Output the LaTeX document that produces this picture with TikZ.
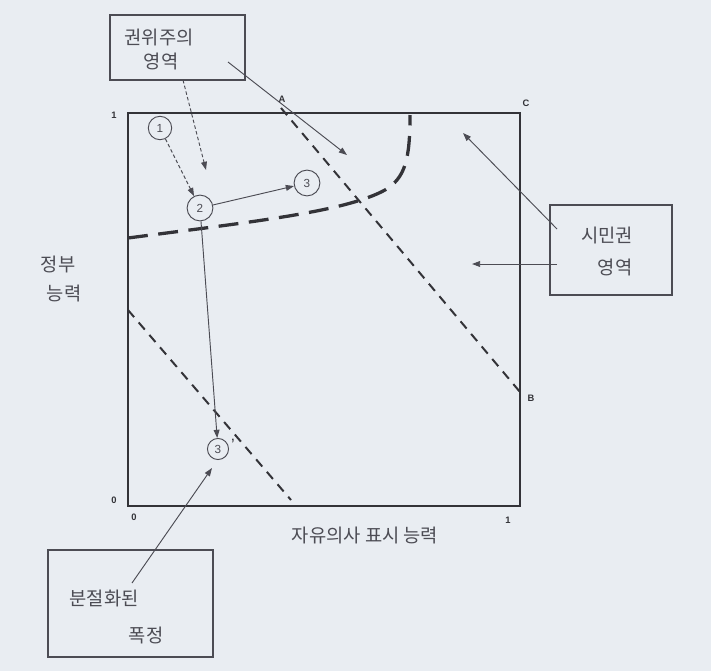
\documentclass[tikz,border=0pt]{standalone}
\usepackage{fontspec}
\newfontfamily\kr{Noto Sans CJK KR}
\setmainfont{Liberation Sans}
\usetikzlibrary{arrows.meta}
\definecolor{bgc}{rgb}{0.915,0.93,0.95}
\definecolor{ink}{rgb}{0.2,0.2,0.22}
\definecolor{pen}{rgb}{0.3,0.3,0.33}
\tikzset{
  frame/.style={draw=ink,line width=2.5pt},
  lbox/.style={draw=pen,line width=0.9pt,minimum width=#1,inner sep=0pt},
  ktext/.style={font=\kr\fontsize{16}{18}\selectfont,text=pen,inner sep=0pt},
  small/.style={font=\fontsize{8}{9}\selectfont\bfseries,text=ink,inner sep=0pt},
  numc/.style={circle,draw=pen,line width=0.8pt,minimum size=#1,inner sep=0pt,font=\fontsize{10}{11}\selectfont,text=pen},
  shortdash/.style={draw=ink,line width=1.7pt,dash pattern=on 8pt off 6pt},
  longdash/.style={draw=ink,line width=2.8pt,dash pattern=on 17pt off 9pt},
  parrow/.style={draw=pen,line width=0.8pt,-{Triangle[length=7pt,width=5pt]}},
  darrow/.style={parrow,dash pattern=on 3pt off 2pt},
}
\begin{document}
\begin{tikzpicture}[x=0.03cm,y=-0.03cm]
\fill[bgc] (0,0) rectangle (711,671);
\useasboundingbox (0,0) rectangle (711,671);

% main square
\coordinate (tl) at (128,113);
\coordinate (br) at (520,506);
\draw[frame] (tl) rectangle (br);

% axis labels
\node[small] (y1) at (114,115) {1};
\node[small] (y0) at (114,500) {0};
\node[small] (x0) at (134,517) {0};
\node[small] (x1) at (508,520) {1};
\node[small] (A) at (282,99) {A};
\node[small] (C) at (526,103) {C};
\node[small] (B) at (531,398) {B};

% dashed lines
\coordinate (a1) at (281,108);
\coordinate (b1) at (520,392);
\draw[shortdash] (a1) -- (b1);
\coordinate (l1) at (128,310);
\coordinate (l2) at (291,500);
\draw[shortdash] (l1) -- (l2);

% thick long-dashed boundary
\coordinate (c0) at (128,238);
\coordinate (c1) at (385,190);
\coordinate (c2) at (410,115);
\draw[longdash] (c0) .. controls (250,222) and (345,212) .. (c1) .. controls (405,178) and (410,160) .. (c2);

% circled numbers
\node[numc=20pt] (n1) at (160,128) {1};
\node[numc=22pt] (n2) at (200,208) {2};
\node[numc=22pt] (n3) at (307,183) {3};
\node[numc=18pt] (n3p) at (218,449) {3};
\node[small,font=\fontsize{14}{14}\selectfont] (pr) at (233,445) {'};

\draw[darrow] (n1) -- (n2);
\draw[parrow] (n2) -- (n3);
\draw[parrow] (n2) -- (n3p);

% boxes
\node[lbox=4.05cm,minimum height=1.95cm] (bx1) at (177.5,47.5) {};
\node[ktext] (t1a) at (159,37) {권위주의};
\node[ktext] (t1b) at (161,61) {영역};

\node[lbox=3.66cm,minimum height=2.7cm] (bx2) at (611,250) {};
\node[ktext] (t2a) at (607,235) {시민권};
\node[ktext] (t2b) at (615,267) {영역};

\node[lbox=4.95cm,minimum height=3.21cm] (bx3) at (130.5,603.5) {};
\node[ktext] (t3a) at (104,598) {분절화된};
\node[ktext] (t3b) at (146,635) {폭정};

\node[ktext] (xl) at (365,535) {자유의사 표시 능력};
\node[ktext] (yla) at (58,264) {정부};
\node[ktext] (ylb) at (64,293) {능력};

% box arrows
\coordinate (s1) at (183,80);
\coordinate (e1) at (206,170);
\draw[darrow] (s1) -- (e1);
\coordinate (s2) at (228,62);
\coordinate (e2) at (347,155);
\draw[parrow] (s2) -- (e2);
\coordinate (s3) at (557,229);
\coordinate (e3) at (463,133);
\draw[parrow] (s3) -- (e3);
\coordinate (s4) at (557,264);
\coordinate (e4) at (472,264);
\draw[parrow] (s4) -- (e4);
\coordinate (s5) at (132,583);
\coordinate (e5) at (212,468);
\draw[parrow] (s5) -- (e5);
\end{tikzpicture}
\end{document}
